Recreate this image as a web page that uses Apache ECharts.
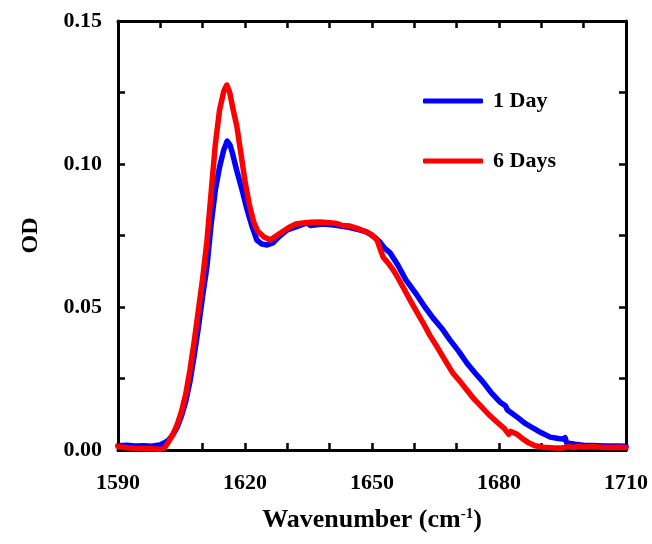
<!DOCTYPE html>
<html>
<head>
<meta charset="utf-8">
<script src="https://cdn.jsdelivr.net/npm/echarts@6/dist/echarts.min.js"></script>
<style>html,body{margin:0;padding:0;background:#fff}#c{width:652px;height:544px}</style>
</head>
<body>
<div id="c"></div>
<script>
var xTickLabels = [1590, 1620, 1650, 1680, 1710];
var yTickLabels = ['0.00', '0.05', '0.10', '0.15'];
var seriesNames = ['1 Day', '6 Days'];

var wn1Day = [1590,1592,1594,1596,1598,1599,1600,1601,1602,1603,1604,1605,1606,1607,1608,1609,1610,1611,1612,1613,1614,1615,1615.8,1616.5,1617,1618,1619.3,1620.5,1621.7,1622.8,1624,1625.2,1626.6,1628,1630,1632,1634.6,1635.5,1638.4,1641,1644,1647,1648.8,1650.5,1651.9,1653,1654.3,1656.1,1658,1660.6,1662.5,1664.4,1666.5,1668.4,1670.5,1672.4,1674.3,1676.2,1678.2,1680.2,1681.5,1682,1684.3,1686,1688,1690,1692.1,1694,1695.1,1695.6,1696,1698,1699.9,1702,1705,1708,1710];
var od1Day = [0.0015,0.0017,0.0014,0.0015,0.0013,0.0016,0.0018,0.0025,0.0035,0.0055,0.008,0.012,0.017,0.024,0.033,0.043,0.054,0.064,0.079,0.091,0.099,0.105,0.108,0.1065,0.104,0.098,0.091,0.084,0.078,0.0734,0.072,0.0717,0.0724,0.0745,0.077,0.078,0.0794,0.0785,0.079,0.0787,0.078,0.077,0.0762,0.0745,0.0727,0.0705,0.0689,0.0647,0.0595,0.0542,0.050,0.0462,0.0425,0.0385,0.0345,0.0304,0.027,0.0238,0.020,0.0168,0.0155,0.014,0.0115,0.0095,0.0077,0.006,0.0045,0.004,0.0038,0.0043,0.0025,0.002,0.0017,0.0016,0.0014,0.0014,0.0013];

var wn6Days = [1590,1592,1594,1596,1598,1600,1600.5,1601,1602,1603,1604,1605,1606,1607,1608,1609,1610,1611,1612,1613,1614,1615,1615.7,1616.4,1617.2,1618.1,1619,1620,1621,1622,1623,1624.5,1626,1627.5,1629,1630.6,1632,1633.7,1635.5,1637.7,1640,1641.7,1643,1644.8,1646.5,1648.8,1650,1651.2,1652,1652.6,1654,1655,1656,1657.5,1659,1660.5,1662.1,1663.7,1665.4,1667.2,1669.1,1670.8,1672.4,1674,1675.5,1677.5,1679.5,1681.3,1682.3,1682.8,1684.3,1685.7,1687,1688.5,1690.4,1693,1695,1696.5,1697.5,1699,1700,1702,1705,1708,1710];
var od6Days = [0.0012,0.0008,0.0006,0.0005,0.0004,0.0003,0.0004,0.0008,0.003,0.0055,0.009,0.0135,0.0195,0.028,0.038,0.049,0.060,0.073,0.090,0.107,0.119,0.1255,0.1276,0.125,0.119,0.113,0.104,0.094,0.086,0.080,0.0765,0.0745,0.0734,0.075,0.0765,0.078,0.079,0.0794,0.0796,0.0797,0.0795,0.0792,0.0785,0.0783,0.0775,0.0762,0.0752,0.0734,0.070,0.0675,0.065,0.063,0.0605,0.0565,0.0524,0.0485,0.0444,0.040,0.036,0.0315,0.0269,0.024,0.021,0.018,0.0157,0.0125,0.0098,0.0075,0.0055,0.0065,0.0055,0.0038,0.0025,0.0015,0.001,0.0007,0.0007,0.0012,0.0009,0.0013,0.001,0.0012,0.0009,0.001,0.0009];

function pairs(xs, ys) { return xs.map(function (x, i) { return [x, ys[i]]; }); }

var FONT = '"Liberation Serif", "Times New Roman", serif';
var chart = echarts.init(document.getElementById('c'), null, { renderer: 'canvas' });

var axisLineStyle = { color: '#000', width: 3 };
var tickStyle = { show: true, inside: true, length: 7, lineStyle: { color: '#000', width: 2.5 } };

chart.setOption({
  animation: false,
  backgroundColor: '#fff',
  grid: { left: 118, right: 26, top: 21, bottom: 94 },
  legend: [
    {
      data: [seriesNames[0]], left: 418, top: 85, orient: 'vertical',
      itemWidth: 60, itemHeight: 5, icon: 'roundRect',
      textStyle: { fontFamily: FONT, fontWeight: 'bold', fontSize: 22, color: '#000', padding: [0, 0, 0, 5] }
    },
    {
      data: [seriesNames[1]], left: 418, top: 145, orient: 'vertical',
      itemWidth: 60, itemHeight: 5, icon: 'roundRect',
      textStyle: { fontFamily: FONT, fontWeight: 'bold', fontSize: 22, color: '#000', padding: [0, 0, 0, 5] }
    }
  ],
  xAxis: [
    {
      type: 'value', position: 'bottom', min: 1590, max: 1710, interval: 10,
      name: 'Wavenumber (cm{sup|-1})', nameLocation: 'middle', nameGap: 57,
      nameTextStyle: {
        fontFamily: FONT, fontWeight: 'bold', fontSize: 26, color: '#000',
        rich: { sup: { fontFamily: FONT, fontWeight: 'bold', fontSize: 15, color: '#000', verticalAlign: 'top', padding: [0, 0, 10, 0] } }
      },
      axisLine: { show: true, onZero: false, lineStyle: axisLineStyle },
      axisTick: tickStyle,
      splitLine: { show: false },
      axisLabel: {
        margin: 22, fontFamily: FONT, fontWeight: 'bold', fontSize: 22, color: '#000',
        formatter: function (v) { return xTickLabels.indexOf(Math.round(v)) >= 0 ? String(Math.round(v)) : ''; }
      }
    },
    {
      type: 'value', position: 'top', min: 1590, max: 1710, interval: 10,
      axisLine: { show: true, onZero: false, lineStyle: axisLineStyle },
      axisTick: tickStyle, splitLine: { show: false }, axisLabel: { show: false }
    }
  ],
  yAxis: [
    {
      type: 'value', position: 'left', min: 0, max: 0.15, interval: 0.025,
      name: 'OD', nameLocation: 'middle', nameGap: 75, nameRotate: 90,
      nameTextStyle: { fontFamily: FONT, fontWeight: 'bold', fontSize: 24, color: '#000' },
      axisLine: { show: true, onZero: false, lineStyle: axisLineStyle },
      axisTick: tickStyle,
      splitLine: { show: false },
      axisLabel: {
        margin: 16, fontFamily: FONT, fontWeight: 'bold', fontSize: 22, color: '#000',
        formatter: function (v) { var s = v.toFixed(2); return yTickLabels.indexOf(s) >= 0 && Math.abs(v * 20 - Math.round(v * 20)) < 1e-6 ? s : ''; }
      }
    },
    {
      type: 'value', position: 'right', min: 0, max: 0.15, interval: 0.025,
      axisLine: { show: true, onZero: false, lineStyle: axisLineStyle },
      axisTick: tickStyle, splitLine: { show: false }, axisLabel: { show: false }
    }
  ],
  series: [
    {
      name: seriesNames[0], type: 'line', data: pairs(wn1Day, od1Day),
      showSymbol: false, symbol: 'none', clip: false,
      itemStyle: { color: '#0000FF' },
      lineStyle: { color: '#0000FF', width: 5.5, cap: 'round', join: 'round' }
    },
    {
      name: seriesNames[1], type: 'line', data: pairs(wn6Days, od6Days),
      showSymbol: false, symbol: 'none', clip: false,
      itemStyle: { color: '#FF0000' },
      lineStyle: { color: '#FF0000', width: 5.5, cap: 'round', join: 'round' }
    }
  ]
});
</script>
</body>
</html>
